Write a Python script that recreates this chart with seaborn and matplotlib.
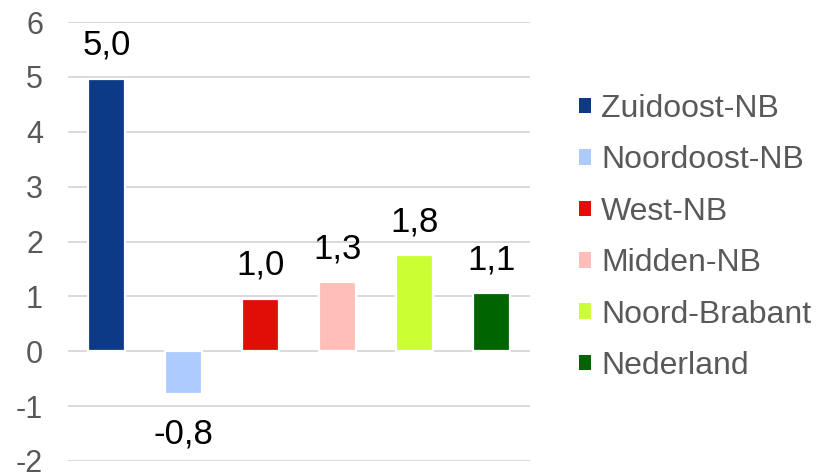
import matplotlib
matplotlib.use("Agg")
import matplotlib.pyplot as plt
import seaborn as sns
import pandas as pd
from matplotlib.patches import Patch

categories = ["Zuidoost-NB", "Noordoost-NB", "West-NB", "Midden-NB", "Noord-Brabant", "Nederland"]
values = [4.97, -0.78, 0.96, 1.26, 1.75, 1.06]
colors = ["#0D3A86", "#ADCBFF", "#E00E06", "#FFBFB8", "#CCFF33", "#006400"]
yticks = [-2, -1, 0, 1, 2, 3, 4, 5, 6]

sns.set_theme(style="white")
plt.rcParams["font.family"] = ["Liberation Sans", "DejaVu Sans"]

df = pd.DataFrame({"cat": categories, "val": values})

fig = plt.figure(figsize=(8.25, 4.76), dpi=100)
ax = fig.add_axes([68/825, 1-461/476, (530-68)/825, (461-22)/476])

sns.barplot(data=df, x="cat", y="val", hue="cat", palette=colors, order=categories,
            hue_order=categories, width=0.47, edgecolor="white", linewidth=1.6,
            saturation=1, legend=False, ax=ax, zorder=3)

ax.set_ylim(-2, 6)
ax.set_xlim(-0.5, 5.5)
ax.set_yticks(yticks)
ax.set_yticklabels([str(t) for t in yticks], fontsize=22, color="#595959")
ax.tick_params(axis="y", length=0, pad=18)
ax.set_xticks([])
ax.set_xlabel("")
ax.set_ylabel("")
for s in ax.spines.values():
    s.set_visible(False)
ax.yaxis.grid(True, color="#D9D9D9", linewidth=1.4, zorder=0)
ax.set_axisbelow(True)

for i, v in enumerate(values):
    lab = f"{v:.1f}".replace(".", ",")
    if v >= 0:
        ax.annotate(lab, (i, v), xytext=(0, 12), textcoords="offset points",
                    ha="center", va="bottom", fontsize=25, color="black")
    else:
        ax.annotate(lab, (i, v), xytext=(0, -17), textcoords="offset points",
                    ha="center", va="top", fontsize=25, color="black")

handles = [Patch(facecolor=c, edgecolor="none") for c in colors]
leg = fig.legend(handles, categories, loc="upper left", bbox_to_anchor=(579/825, 1-94/476),
                 frameon=False, fontsize=23, handlelength=0.375, handleheight=0.375,
                 handletextpad=0.31, labelspacing=0.67, borderpad=0, borderaxespad=0)
for t in leg.get_texts():
    t.set_color("#595959")

fig.savefig("out.png", dpi=100)
